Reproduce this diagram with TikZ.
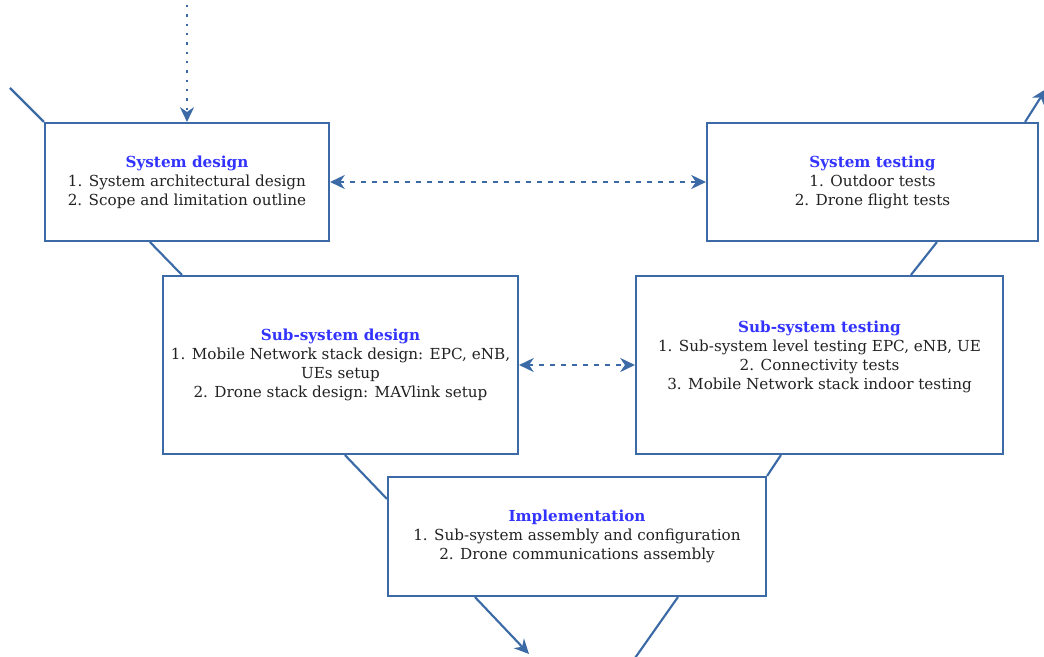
\documentclass[tikz,border=0pt]{standalone}
\usepackage{fontspec}
\setmainfont{DejaVu Serif}
\usetikzlibrary{arrows.meta}
\definecolor{vline}{HTML}{3B6AA6}
\definecolor{vtitle}{HTML}{3333FF}
\definecolor{vtext}{HTML}{222222}
\newcommand{\vtitle}[1]{\textcolor{vtitle}{\textbf{#1}}}
\tikzset{
  stage/.style={draw=vline, line width=1.6pt, fill=white, align=center,
    text=vtext, inner sep=0pt, font=\fontsize{11.4pt}{14.2pt}\selectfont},
  vlink/.style={draw=vline, line width=1.6pt},
  vtip/.style={-{Stealth[length=11pt,width=10.5pt,inset=3.5pt]}},
  vtips/.style={{Stealth[length=11pt,width=10.5pt,inset=3.5pt]}-{Stealth[length=11pt,width=10.5pt,inset=3.5pt]}},
  vdash/.style={dash pattern=on 3.75pt off 4.5pt},
  vdot/.style={dash pattern=on 1.8pt off 5.2pt}
}
\begin{document}
\begin{tikzpicture}[x=0.75pt,y=-0.75pt]
\useasboundingbox (0,0) rectangle (1044,656);

% V-model stages
\node[stage, minimum width=213pt, minimum height=88.5pt] (A) at (187,182)
  {\vtitle{System design}\\1. System architectural design\\2. Scope and limitation outline};
\node[stage, minimum width=248.25pt, minimum height=88.5pt] (B) at (872.5,182)
  {\vtitle{System testing}\\1. Outdoor tests\\2. Drone flight tests};
\node[stage, minimum width=266.25pt, minimum height=133.5pt] (C) at (340.5,365)
  {\vtitle{Sub-system design}\\1. Mobile Network stack design: EPC, eNB,\\UEs setup\\2. Drone stack design: MAVlink setup};
\node[stage, minimum width=275.25pt, minimum height=133.5pt] (D) at (819.5,365)
  {\vtitle{Sub-system testing}\\1. Sub-system level testing EPC, eNB, UE\\2. Connectivity tests\\3. Mobile Network stack indoor testing\\\mbox{}};
\node[stage, minimum width=283.5pt, minimum height=89.25pt] (E) at (577,536.5)
  {\vtitle{Implementation}\\1. Sub-system assembly and configuration\\2. Drone communications assembly};

% free ends
\coordinate (tl) at (10,88);
\coordinate (top) at (187,5);
\coordinate (tr) at (1046,89);
\coordinate (bl) at (529,654);
\coordinate (br) at (635,658);

% left branch
\draw[vlink] (tl) -- (A.north west);
\draw[vlink] ([xshift=79.5pt]A.south west) -- ([xshift=15pt]C.north west);
\draw[vlink] ([xshift=137.25pt]C.south west) -- ([yshift=-17.25pt]E.north west);

% right branch
\draw[vlink] ([xshift=109.5pt]D.south west) -- (E.north east);
\draw[vlink] ([xshift=173.25pt]B.south west) -- ([xshift=207pt]D.north west);
\draw[vlink, vtip] ([xshift=-10.5pt]B.north east) -- (tr);

% bottom of the V
\draw[vlink, vtip] ([xshift=66pt]E.south west) -- (bl);
\draw[vlink] ([xshift=218.25pt]E.south west) -- (br);

% entry and verification links
\draw[vlink, vdot, vtip] (top) -- (A.north);
\draw[vlink, vdash, vtips] (A.east) -- (B.west);
\draw[vlink, vdash, vtips] (C.east) -- (D.west);
\end{tikzpicture}
\end{document}
